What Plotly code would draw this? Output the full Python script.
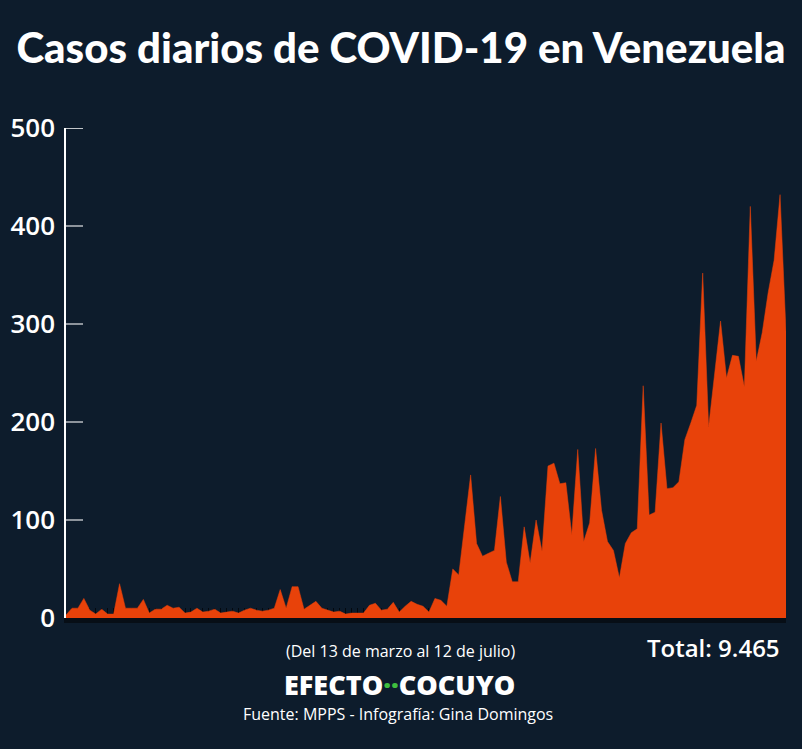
import plotly.graph_objects as go

# Casos diarios, 13 de marzo al 12 de julio (122 dias)
day_index = list(range(122))
daily_cases = [
    3, 10, 10, 20, 8, 4, 9, 4, 4, 35,
    10, 10, 10, 19, 5, 9, 9, 13, 10, 11,
    5, 6, 10, 6, 7, 9, 5, 6, 7, 5,
    8, 10, 8, 7, 8, 10, 29, 10, 32, 32,
    9, 13, 17, 10, 8, 6, 7, 4, 5, 5,
    5, 13, 15, 8, 9, 16, 6, 12, 17, 14,
    12, 6, 20, 18, 12, 50, 44, 95, 146, 76,
    63, 66, 69, 124, 57, 37, 37, 93, 56, 100,
    68, 155, 158, 137, 138, 85, 172, 78, 97, 173,
    110, 78, 69, 41, 76, 87, 91, 237, 105, 108,
    199, 132, 133, 139, 182, 199, 217, 352, 195, 249,
    303, 245, 268, 267, 236, 420, 262, 291, 332, 365,
    432, 292,
]
y_ticks = [0, 100, 200, 300, 400, 500]

BG = "#0d1c2c"
ORANGE = "#e8420a"

fig = go.Figure()

fig.add_trace(
    go.Scatter(
        x=day_index,
        y=daily_cases,
        mode="lines",
        fill="tozeroy",
        fillcolor=ORANGE,
        line=dict(color=ORANGE, width=0.5),
        hoverinfo="y",
    )
)

fig.update_layout(
    width=802,
    height=749,
    paper_bgcolor=BG,
    plot_bgcolor=BG,
    showlegend=False,
    margin=dict(l=66, r=16, t=128, b=131, autoexpand=False),
    title=dict(
        text="Casos diarios de COVID-19 en Venezuela",
        x=0.5,
        xanchor="center",
        xref="container",
        y=1 - 48 / 749,
        yref="container",
        yanchor="middle",
        font=dict(family="Lato", size=42, weight=900, color="white"),
    ),
)

fig.update_xaxes(
    range=[0, 121],
    showgrid=False,
    zeroline=False,
    showticklabels=False,
    ticks="inside",
    dtick=1,
    ticklen=10,
    tickwidth=1,
    tickcolor="#04090f",
    showline=True,
    linecolor="#070e16",
    linewidth=5,
    layer="below traces",
    automargin=False,
)

fig.update_yaxes(
    range=[0, 500],
    tickvals=y_ticks,
    showgrid=False,
    zeroline=False,
    ticks="inside",
    ticklen=17,
    tickwidth=2,
    tickcolor="#8d949c",
    showline=True,
    linecolor="white",
    linewidth=1.5,
    ticklabelstandoff=4,
    automargin=False,
    tickfont=dict(family="Open Sans", size=26, weight=600, color="white"),
)

# white tick on top of the axis
fig.add_shape(
    type="line", xref="paper", yref="y",
    x0=0, x1=17 / 720, y0=500, y1=500,
    line=dict(color="white", width=1.5),
)

notes = [
    dict(text="(Del 13 de marzo al 12 de julio)", x=0.464, y=-0.0673,
         xanchor="center", size=16, weight=400),
    dict(text="Total: 9.465", x=0.9945, y=-0.0612,
         xanchor="right", size=24, weight=600),
    dict(text="EFECTO<span style='color:#3fbf3f'>··</span>COCUYO",
         x=0.4625, y=-0.1347, xanchor="center", size=27, weight=800),
    dict(text="Fuente: MPPS - Infografía: Gina Domingos", x=0.461, y=-0.1959,
         xanchor="center", size=16, weight=400),
]
for n in notes:
    fig.add_annotation(
        text=n["text"], x=n["x"], y=n["y"], xref="paper", yref="paper",
        xanchor=n["xanchor"], yanchor="middle", showarrow=False,
        font=dict(family="Open Sans", size=n["size"], weight=n["weight"],
                  color="white"),
    )

fig.write_html(
    "out.html",
    config={"displayModeBar": False},
    post_script="document.body.style.margin='0';",
)
